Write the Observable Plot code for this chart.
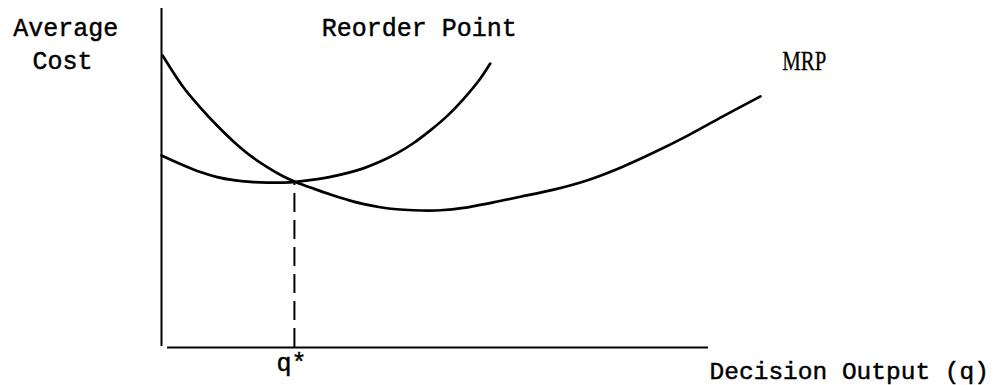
<!DOCTYPE html>
<html>
<head>
<meta charset="utf-8">
<script src="https://cdn.jsdelivr.net/npm/d3@7"></script>
<script src="https://cdn.jsdelivr.net/npm/@observablehq/plot@0.6"></script>
<style>
  html, body { margin: 0; padding: 0; background: #fff; }
  svg { display: block; }
</style>
</head>
<body>
<div id="chart"></div>
<script>
// Decision output q (abstract units, 0..100 along the drawn axis)
const reorderQ    = [0, 4.0, 7.1, 10.2, 13.2, 16.3, 19.4, 22.3, 24.5, 28.5, 30.9, 34.6, 36.9, 40.0, 43.1, 46.1, 49.2, 52.3, 55.2, 58.3, 60.1];
const reorderCost = [56.8, 53.9, 51.9, 50.4, 49.5, 49.0, 48.8, 48.8, 49.0, 49.8, 50.5, 51.9, 53.0, 55.0, 57.5, 60.5, 64.3, 68.6, 73.5, 79.6, 84.0];

const mrpQ    = [0.2, 4.0, 7.1, 10.2, 13.2, 16.3, 19.4, 22.3, 24.5, 27.8, 31.0, 34.0, 37.0, 40.0, 43.0, 46.1, 49.0, 51.0, 55.2, 58.3, 61.4, 65.6, 71.7, 77.9, 83.9, 89.9, 96.2, 102.2, 109.5];
const mrpCost = [86.4, 77.0, 71.0, 65.6, 60.9, 56.7, 53.3, 50.6, 49.0, 47.0, 45.2, 43.7, 42.4, 41.5, 40.9, 40.6, 40.5, 40.6, 41.3, 42.2, 43.2, 44.6, 46.7, 49.5, 53.2, 57.6, 62.7, 68.0, 74.3];

const qStar = 24.3;
const qStarCost = 49.0;

const labels = {
  yLine1: "Average",
  yLine2: "Cost",
  reorder: "Reorder Point",
  mrp: "MRP",
  xLabel: "Decision Output (q)",
  qStar: "q*"
};

const reorder = reorderQ.map((q, i) => ({q, cost: reorderCost[i]}));
const mrp = mrpQ.map((q, i) => ({q, cost: mrpCost[i]}));

const mono = "'Liberation Mono', 'Courier New', monospace";
const serif = "'Liberation Serif', 'Times New Roman', serif";
const monoText = {textAnchor: "start", lineAnchor: "bottom", fontFamily: mono, fontSize: 25, fill: "#000", stroke: "#000", strokeWidth: 0.45};

const chart = Plot.plot({
  width: 1006,
  height: 385,
  marginLeft: 161,
  marginRight: 298,
  marginTop: 9,
  marginBottom: 38,
  x: {domain: [0, 100], axis: null},
  y: {domain: [0, 100], axis: null},
  style: {background: "#fff", color: "#000"},
  marks: [
    // axes
    Plot.ruleX([0], {y1: 0.3, y2: 100.3, stroke: "#000", strokeWidth: 2}),
    Plot.ruleY([0], {x1: 1.1, x2: 100, stroke: "#000", strokeWidth: 2}),
    // q* drop line (drawn from the axis upward)
    Plot.ruleX([qStar], {y1: 0, y2: qStarCost, stroke: "#000", strokeWidth: 2, strokeDasharray: "19,8"}),
    // curves
    Plot.line(reorder, {x: "q", y: "cost", curve: "catmull-rom", stroke: "#000", strokeWidth: 2.7}),
    Plot.line(mrp, {x: "q", y: "cost", curve: "catmull-rom", stroke: "#000", strokeWidth: 2.7}),
    // labels
    Plot.text([labels.yLine1], {...monoText, x: -27.1, y: 92.3, text: d => d}),
    Plot.text([labels.yLine2], {...monoText, x: -23.6, y: 82.5, text: d => d}),
    Plot.text([labels.reorder], {...monoText, x: 29.3, y: 92.3, text: d => d}),
    Plot.text([labels.mrp], {x: 113.5, y: 82.2, text: d => d, textAnchor: "start", lineAnchor: "bottom", fontFamily: serif, fontSize: 27, fill: "#000", stroke: "#000", strokeWidth: 0.3, className: "mrp-label"}),
    Plot.text([labels.xLabel], {...monoText, x: 100.2, y: -9.2, fontSize: 24.5, text: d => d}),
    Plot.text([qStar], {...monoText, x: d => d, y: -7.1, text: () => labels.qStar, textAnchor: "middle", dx: -3})
  ]
});

// condense the MRP label to the narrow width of the original lettering
chart.querySelectorAll(".mrp-label text").forEach(t => {
  t.setAttribute("textLength", 44);
  t.setAttribute("lengthAdjust", "spacingAndGlyphs");
});

document.getElementById("chart").appendChild(chart);
</script>
</body>
</html>
